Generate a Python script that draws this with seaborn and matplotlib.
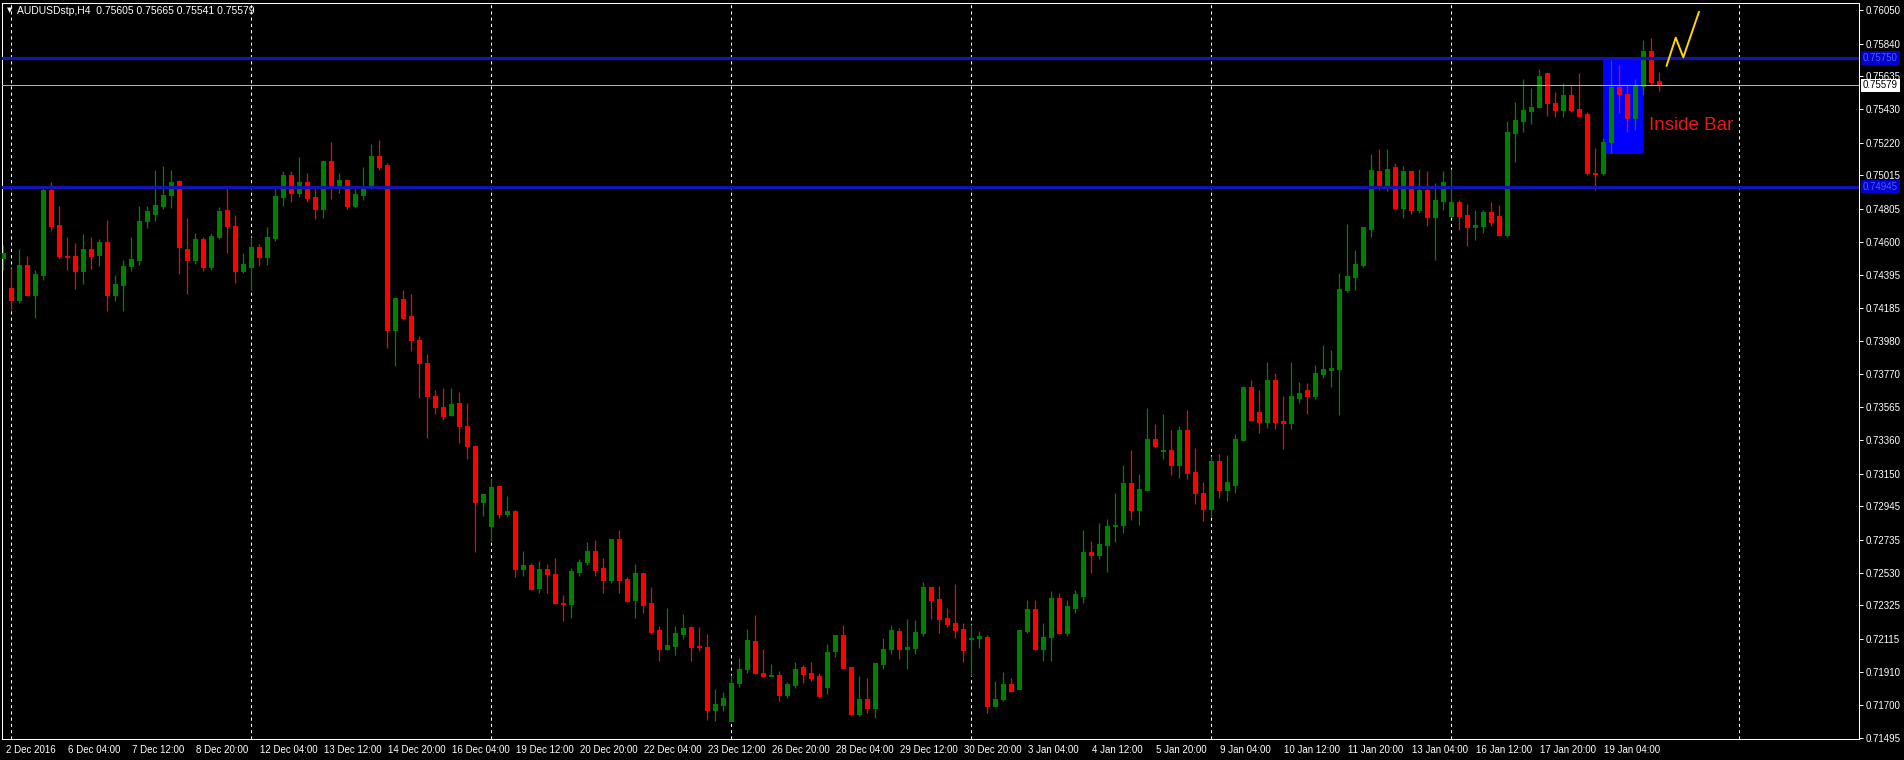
import numpy as np
import pandas as pd
import matplotlib
matplotlib.use("Agg")
import matplotlib.pyplot as plt
import matplotlib.transforms as mtransforms
from matplotlib.patches import Rectangle
import seaborn as sns

# AUDUSD H4 bars, 2 Dec 2016 20:00 .. 19 Jan 2017
opens = [
    0.74500, 0.74311, 0.74233, 0.74456, 0.74269, 0.74394, 0.74921, 0.74706,
    0.74513, 0.74508, 0.74415, 0.74556, 0.74519, 0.74598, 0.74269, 0.74331,
    0.74446, 0.74488, 0.74727, 0.74775, 0.74825, 0.74890, 0.74983, 0.74556,
    0.74483, 0.74619, 0.74440, 0.74629, 0.74800, 0.74700, 0.74419, 0.74440,
    0.74565, 0.74502, 0.74623, 0.74883, 0.75015, 0.74908, 0.74971, 0.74883,
    0.74806, 0.75108, 0.74956, 0.74988, 0.74825, 0.74894, 0.74956, 0.75138,
    0.75081, 0.74046, 0.74242, 0.74138, 0.73988, 0.73842, 0.73638, 0.73567,
    0.73515, 0.73592, 0.73450, 0.73325, 0.72971, 0.72821, 0.73075, 0.72894,
    0.72915, 0.72554, 0.72575, 0.72431, 0.72550, 0.72519, 0.72342, 0.72331,
    0.72533, 0.72596, 0.72665, 0.72556, 0.72483, 0.72738, 0.72488, 0.72358,
    0.72525, 0.72338, 0.72171, 0.72050, 0.72071, 0.72144, 0.72190, 0.72071,
    0.72065, 0.71671, 0.71700, 0.71602, 0.71838, 0.71925, 0.72102, 0.71900,
    0.71885, 0.71888, 0.71763, 0.71825, 0.71940, 0.71900, 0.71883, 0.71815,
    0.72040, 0.72138, 0.71940, 0.71644, 0.71742, 0.71681, 0.71956, 0.72050,
    0.72165, 0.72050, 0.72060, 0.72150, 0.72440, 0.72363, 0.72248, 0.72213,
    0.72175, 0.72113, 0.72123, 0.72127, 0.71696, 0.71738, 0.71832, 0.71804,
    0.72165, 0.72300, 0.72050, 0.72130, 0.72369, 0.72154, 0.72310, 0.72383,
    0.72658, 0.72638, 0.72700, 0.72821, 0.72827, 0.73088, 0.72919, 0.73050,
    0.73367, 0.73290, 0.73296, 0.73206, 0.73425, 0.73160, 0.73030, 0.72930,
    0.73227, 0.73050, 0.73080, 0.73358, 0.73690, 0.73536, 0.73471, 0.73733,
    0.73481, 0.73467, 0.73623, 0.73675, 0.73633, 0.73775, 0.73800, 0.73806,
    0.74300, 0.74379, 0.74456, 0.74681, 0.75044, 0.74956, 0.75065, 0.74810,
    0.75040, 0.74800, 0.74921, 0.74758, 0.74856, 0.74763, 0.74846, 0.74769,
    0.74690, 0.74700, 0.74785, 0.74763, 0.74644, 0.75283, 0.75358, 0.75421,
    0.75442, 0.75658, 0.75467, 0.75425, 0.75519, 0.75431, 0.75400, 0.75033,
    0.75029, 0.75223, 0.75567, 0.75523, 0.75373, 0.75575, 0.75794, 0.75605,
]
highs = [
    0.74580, 0.74436, 0.74556, 0.74508, 0.74425, 0.74935, 0.74977, 0.74825,
    0.74633, 0.74592, 0.74650, 0.74633, 0.74617, 0.74738, 0.74394, 0.74488,
    0.74629, 0.74825, 0.74821, 0.75046, 0.75075, 0.75050, 0.74988, 0.74748,
    0.74654, 0.74633, 0.74654, 0.74817, 0.74950, 0.74769, 0.74529, 0.74629,
    0.74588, 0.74690, 0.74950, 0.75040, 0.75040, 0.75133, 0.75030, 0.74935,
    0.75108, 0.75227, 0.75030, 0.74995, 0.74935, 0.75071, 0.75213, 0.75238,
    0.75090, 0.74248, 0.74300, 0.74275, 0.74008, 0.73900, 0.73675, 0.73686,
    0.73686, 0.73660, 0.73592, 0.73331, 0.73019, 0.73123, 0.73075, 0.73009,
    0.72920, 0.72665, 0.72592, 0.72602, 0.72581, 0.72623, 0.72388, 0.72561,
    0.72613, 0.72721, 0.72733, 0.72623, 0.72738, 0.72796, 0.72504, 0.72581,
    0.72525, 0.72442, 0.72196, 0.72306, 0.72196, 0.72273, 0.72196, 0.72190,
    0.72144, 0.71804, 0.71783, 0.71888, 0.71998, 0.72179, 0.72263, 0.72050,
    0.71956, 0.71915, 0.71846, 0.71971, 0.71950, 0.71973, 0.71904, 0.72081,
    0.72138, 0.72202, 0.71940, 0.71883, 0.71873, 0.71963, 0.72123, 0.72200,
    0.72185, 0.72238, 0.72231, 0.72471, 0.72440, 0.72446, 0.72310, 0.72456,
    0.72217, 0.72206, 0.72165, 0.72138, 0.71852, 0.71908, 0.71869, 0.72169,
    0.72358, 0.72358, 0.72213, 0.72415, 0.72404, 0.72358, 0.72421, 0.72796,
    0.72727, 0.72838, 0.72867, 0.73029, 0.73206, 0.73296, 0.73144, 0.73560,
    0.73463, 0.73525, 0.73421, 0.73446, 0.73550, 0.73310, 0.73100, 0.73260,
    0.73275, 0.73269, 0.73400, 0.73696, 0.73738, 0.73671, 0.73846, 0.73779,
    0.73638, 0.73846, 0.73723, 0.73717, 0.73831, 0.73956, 0.73921, 0.74404,
    0.74713, 0.74546, 0.74690, 0.75150, 0.75179, 0.75179, 0.75092, 0.75075,
    0.75040, 0.75056, 0.75040, 0.74967, 0.75040, 0.75054, 0.74863, 0.74838,
    0.74800, 0.74800, 0.74846, 0.74827, 0.75358, 0.75477, 0.75617, 0.75565,
    0.75681, 0.75658, 0.75540, 0.75592, 0.75575, 0.75654, 0.75415, 0.75185,
    0.75248, 0.75738, 0.75706, 0.75581, 0.75619, 0.75863, 0.75873, 0.75665,
]
lows = [
    0.74425, 0.74175, 0.74217, 0.74260, 0.74123, 0.74363, 0.74665, 0.74498,
    0.74425, 0.74306, 0.74338, 0.74429, 0.74450, 0.74165, 0.74227, 0.74165,
    0.74415, 0.74456, 0.74685, 0.74727, 0.74804, 0.74810, 0.74400, 0.74273,
    0.74463, 0.74415, 0.74425, 0.74617, 0.74529, 0.74342, 0.74404, 0.74300,
    0.74446, 0.74456, 0.74608, 0.74821, 0.74846, 0.74883, 0.74846, 0.74744,
    0.74748, 0.74869, 0.74904, 0.74804, 0.74817, 0.74863, 0.74929, 0.75050,
    0.73936, 0.73825, 0.74117, 0.73915, 0.73623, 0.73373, 0.73525, 0.73484,
    0.73513, 0.73342, 0.73238, 0.72659, 0.72884, 0.72727, 0.72873, 0.72879,
    0.72500, 0.72508, 0.72421, 0.72404, 0.72404, 0.72331, 0.72227, 0.72248,
    0.72508, 0.72575, 0.72508, 0.72404, 0.72467, 0.72404, 0.72346, 0.72248,
    0.72279, 0.72150, 0.71977, 0.72046, 0.72013, 0.72113, 0.71977, 0.72040,
    0.71608, 0.71602, 0.71665, 0.71602, 0.71817, 0.71904, 0.71894, 0.71879,
    0.71883, 0.71727, 0.71748, 0.71810, 0.71838, 0.71852, 0.71754, 0.71769,
    0.72002, 0.71925, 0.71640, 0.71633, 0.71654, 0.71623, 0.71925, 0.72019,
    0.71992, 0.71925, 0.72019, 0.72133, 0.72242, 0.72154, 0.72192, 0.72123,
    0.71971, 0.71883, 0.72060, 0.71650, 0.71696, 0.71727, 0.71780, 0.71800,
    0.72154, 0.72046, 0.71977, 0.71977, 0.72150, 0.72133, 0.72280, 0.72338,
    0.72530, 0.72613, 0.72533, 0.72721, 0.72775, 0.72858, 0.72831, 0.73046,
    0.73317, 0.73244, 0.73138, 0.73123, 0.73113, 0.72960, 0.72850, 0.72880,
    0.73000, 0.72980, 0.73030, 0.73352, 0.73484, 0.73404, 0.73435, 0.73429,
    0.73304, 0.73429, 0.73592, 0.73525, 0.73617, 0.73748, 0.73692, 0.73515,
    0.74283, 0.74296, 0.74442, 0.74629, 0.74925, 0.74915, 0.74810, 0.74748,
    0.74773, 0.74783, 0.74700, 0.74488, 0.74800, 0.74763, 0.74675, 0.74571,
    0.74613, 0.74658, 0.74696, 0.74644, 0.74633, 0.75102, 0.75290, 0.75338,
    0.75435, 0.75390, 0.75383, 0.75383, 0.75415, 0.75383, 0.75019, 0.74921,
    0.75019, 0.75154, 0.75408, 0.75290, 0.75300, 0.75519, 0.75575, 0.75541,
]
closes = [
    0.74530, 0.74238, 0.74456, 0.74269, 0.74400, 0.74921, 0.74696, 0.74513,
    0.74502, 0.74415, 0.74556, 0.74513, 0.74598, 0.74269, 0.74338, 0.74450,
    0.74494, 0.74731, 0.74790, 0.74831, 0.74894, 0.74973, 0.74567, 0.74483,
    0.74617, 0.74440, 0.74638, 0.74794, 0.74696, 0.74419, 0.74463, 0.74565,
    0.74502, 0.74627, 0.74888, 0.75015, 0.74908, 0.74971, 0.74877, 0.74806,
    0.75108, 0.74956, 0.74988, 0.74825, 0.74900, 0.74942, 0.75138, 0.75071,
    0.74046, 0.74248, 0.74123, 0.73983, 0.73842, 0.73633, 0.73567, 0.73513,
    0.73588, 0.73446, 0.73321, 0.72971, 0.73019, 0.73067, 0.72894, 0.72915,
    0.72554, 0.72575, 0.72430, 0.72550, 0.72519, 0.72338, 0.72333, 0.72540,
    0.72596, 0.72665, 0.72546, 0.72483, 0.72738, 0.72483, 0.72352, 0.72529,
    0.72325, 0.72160, 0.72050, 0.72075, 0.72154, 0.72181, 0.72065, 0.72065,
    0.71671, 0.71706, 0.71748, 0.71838, 0.71930, 0.72106, 0.71900, 0.71883,
    0.71888, 0.71763, 0.71831, 0.71930, 0.71894, 0.71873, 0.71758, 0.72035,
    0.72138, 0.71935, 0.71644, 0.71742, 0.71681, 0.71963, 0.72054, 0.72169,
    0.72050, 0.72067, 0.72158, 0.72440, 0.72356, 0.72242, 0.72206, 0.72169,
    0.72044, 0.72123, 0.72133, 0.71696, 0.71742, 0.71832, 0.71790, 0.72169,
    0.72300, 0.72050, 0.72130, 0.72369, 0.72150, 0.72321, 0.72394, 0.72658,
    0.72640, 0.72706, 0.72821, 0.72831, 0.73088, 0.72919, 0.73056, 0.73367,
    0.73321, 0.73296, 0.73206, 0.73425, 0.73154, 0.73030, 0.72930, 0.73227,
    0.73050, 0.73100, 0.73363, 0.73690, 0.73484, 0.73471, 0.73733, 0.73471,
    0.73467, 0.73633, 0.73654, 0.73638, 0.73779, 0.73804, 0.73810, 0.74306,
    0.74383, 0.74463, 0.74690, 0.75046, 0.74956, 0.75056, 0.74810, 0.75040,
    0.74800, 0.74921, 0.74758, 0.74863, 0.74973, 0.74846, 0.74763, 0.74690,
    0.74706, 0.74785, 0.74721, 0.74644, 0.75285, 0.75363, 0.75425, 0.75446,
    0.75638, 0.75467, 0.75425, 0.75519, 0.75425, 0.75390, 0.75029, 0.75025,
    0.75223, 0.75567, 0.75523, 0.75373, 0.75575, 0.75794, 0.75602, 0.75579,
]

# time axis labels, one every 8 bars
time_labels = [
    "2 Dec 2016", "6 Dec 04:00", "7 Dec 12:00", "8 Dec 20:00", "12 Dec 04:00",
    "13 Dec 12:00", "14 Dec 20:00", "16 Dec 04:00", "19 Dec 12:00", "20 Dec 20:00",
    "22 Dec 04:00", "23 Dec 12:00", "26 Dec 20:00", "28 Dec 04:00", "29 Dec 12:00",
    "30 Dec 20:00", "3 Jan 04:00", "4 Jan 12:00", "5 Jan 20:00", "9 Jan 04:00",
    "10 Jan 12:00", "11 Jan 20:00", "13 Jan 04:00", "16 Jan 12:00", "17 Jan 20:00",
    "19 Jan 04:00",
]
label_bars = [0] + [8 + 8 * i for i in range(25)]
week_start_bars = [1, 31, 61, 91, 121, 151, 181, 217]

price_ticks = [
    0.76050, 0.75840, 0.75635, 0.75430, 0.75220, 0.75015, 0.74805, 0.74600,
    0.74395, 0.74185, 0.73980, 0.73770, 0.73565, 0.73360, 0.73150, 0.72945,
    0.72735, 0.72530, 0.72325, 0.72115, 0.71910, 0.71700, 0.71495,
]

resistance = 0.75750
support = 0.74945
last_price = 0.75579

# inside bar box (bars 200..205) and projected zigzag
box_bars = [200.0, 204.9]
box_prices = [0.75148, 0.75737]
zigzag_bars = [207.9, 209.05, 210.0, 211.96]
zigzag_prices = [0.75700, 0.75877, 0.75754, 0.76039]

BG = "black"
FG = "white"
UP = "#008000"
DOWN = "#ff0000"
LINE_BLUE = "#1414b4"

sns.set_style("dark", {"axes.facecolor": BG, "figure.facecolor": BG,
                       "axes.edgecolor": FG, "text.color": FG,
                       "xtick.color": FG, "ytick.color": FG})
plt.rcParams["font.family"] = ["Liberation Sans", "DejaVu Sans"]

df = pd.DataFrame({"open": opens, "high": highs, "low": lows, "close": closes})
df["bar"] = np.arange(len(df))
df["color"] = np.where(df["close"] >= df["open"], UP, DOWN)

fig = plt.figure(figsize=(19.04, 7.6), dpi=100)
ax = fig.add_axes([2 / 1904, 21 / 760, 1857 / 1904, 736 / 760])
ax.set_facecolor(BG)

# weekly separators
for b in week_start_bars:
    ax.axvline(b, color=FG, lw=0.75, ls=(0, (3, 3)), zorder=1)

# inside bar rectangle (background object)
ax.add_patch(Rectangle((box_bars[0], box_prices[0]), box_bars[1] - box_bars[0],
                       box_prices[1] - box_prices[0], facecolor="#0000ff",
                       edgecolor="none", zorder=2))

# candles
ax.vlines(df["bar"], df["low"], df["high"], colors=df["color"], lw=0.9, zorder=3)
ax.bar(df["bar"], df["close"] - df["open"], bottom=df["open"], width=0.5,
       color=df["color"], edgecolor=df["color"], linewidth=0.75, zorder=4)

# horizontal levels drawn over the chart
ax.axhline(resistance, color=LINE_BLUE, lw=2.3, zorder=5)
ax.axhline(support, color=LINE_BLUE, lw=2.3, zorder=5)
ax.axhline(last_price, color="#b0b0b0", lw=0.75, zorder=5)

sns.lineplot(x=zigzag_bars, y=zigzag_prices, color="#ffd700", lw=1.4, ax=ax,
             zorder=6, sort=False)
ax.text(205.7, 0.75300, "Inside Bar", color="#e81818", fontsize=13.5,
        family=["Liberation Sans", "DejaVu Sans"], va="baseline", ha="left", zorder=6)

ax.set_xlim(-0.16, 231.96)
ax.set_ylim(0.71489, 0.76094)

# price scale on the right
ax.yaxis.tick_right()
ax.set_yticks(price_ticks)
ax.set_yticklabels([f"{p:.5f}" for p in price_ticks])
ax.tick_params(axis="y", length=3, width=0.75, color=FG, pad=2, labelsize=7,
               labelcolor=FG, direction="out")

# time scale
tick_pos = [b - 0.3 if b > 0 else 0.0 for b in label_bars]
ax.set_xticks(tick_pos)
ax.set_xticklabels(time_labels, ha="left")
ax.tick_params(axis="x", length=3, width=0.75, color=FG, pad=1, labelsize=7,
               labelcolor=FG, direction="out")
shift = mtransforms.ScaledTranslation(3 / 100, 0, fig.dpi_scale_trans)
for lab in ax.get_xticklabels():
    lab.set_transform(lab.get_transform() + shift)

for sp in ax.spines.values():
    sp.set_color(FG)
    sp.set_linewidth(0.75)
ax.grid(False)
ax.set_xlabel("")
ax.set_ylabel("")

# highlighted price labels on the scale
trans = mtransforms.blended_transform_factory(ax.transAxes, ax.transData)
for level in (resistance, support):
    ax.text(1.0 + 4 / 1857, level, f"{level:.5f}", transform=trans, fontsize=7,
            color="#4a5cff", va="center", ha="left", clip_on=False, zorder=10,
            bbox=dict(boxstyle="square,pad=0.18", fc="#0000c8", ec="none"))
ax.text(1.0 + 4 / 1857, last_price, f"{last_price:.5f}", transform=trans,
        fontsize=7, color="black", va="center", ha="left", clip_on=False,
        zorder=10, bbox=dict(boxstyle="square,pad=0.18", fc="white", ec="none"))

# symbol header
ax.text(5 / 1857, 1 - 7 / 736, "\u25bc", transform=ax.transAxes, fontsize=5,
        color=FG, va="center", ha="left", family=["DejaVu Sans"])
ax.text(15 / 1857, 1 - 8 / 736, "AUDUSDstp,H4  0.75605 0.75665 0.75541 0.75579",
        transform=ax.transAxes, fontsize=7.5, color=FG, va="center", ha="left")

fig.savefig("out.png", dpi=100, facecolor=BG)
